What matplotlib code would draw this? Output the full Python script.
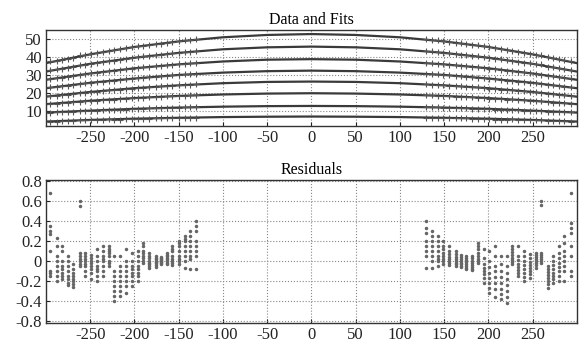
import numpy as np
import matplotlib
matplotlib.use('Agg')
import matplotlib.pyplot as plt

plt.rcParams['font.family'] = ['Liberation Serif', 'DejaVu Serif']
plt.rcParams['axes.unicode_minus'] = False

# fit curves, read at x = -300 .. 300 every 50
knot_x = [-300, -250, -200, -150, -100, -50, 0, 50, 100, 150, 200, 250, 300]
fits = [
    [36.6, 41.5, 45.6, 48.7, 51.0, 52.3, 52.8, 52.3, 51.0, 48.7, 45.6, 41.5, 36.6],
    [31.9, 36.2, 39.6, 42.3, 44.3, 45.4, 45.8, 45.4, 44.3, 42.3, 39.6, 36.2, 31.9],
    [27.3, 30.8, 33.7, 35.9, 37.5, 38.5, 38.8, 38.5, 37.5, 35.9, 33.7, 30.8, 27.3],
    [22.6, 25.6, 28.0, 30.0, 31.3, 32.1, 32.4, 32.1, 31.3, 30.0, 28.0, 25.6, 22.6],
    [17.9, 20.5, 22.6, 24.2, 25.4, 26.1, 26.3, 26.1, 25.4, 24.2, 22.6, 20.5, 17.9],
    [13.7, 15.6, 17.1, 18.3, 19.1, 19.6, 19.8, 19.6, 19.1, 18.3, 17.1, 15.6, 13.7],
    [9.0, 10.1, 11.1, 11.8, 12.3, 12.6, 12.7, 12.6, 12.3, 11.8, 11.1, 10.1, 9.0],
    [4.0, 4.9, 5.6, 6.1, 6.5, 6.7, 6.8, 6.7, 6.5, 6.1, 5.6, 4.9, 4.0],
]

# measured positions (left and right wings)
data_x = [-295, -288, -282, -275, -269, -262, -256, -249, -242, -236, -229, -223, -216,
          -209, -203, -196, -190, -183, -176, -170, -163, -157, -150, -143, -137, -130,
          130, 136, 143, 149, 156, 163, 169, 175, 182, 188, 195, 201, 208,
          214, 221, 227, 234, 240, 247, 254, 260, 267, 273, 280, 286, 293]

# residuals per position, one value per curve
resid = [
    [0.68, 0.35, 0.30, 0.27, 0.10, -0.10, -0.12, -0.15],
    [0.23, 0.15, 0.05, 0.00, -0.05, -0.10, -0.15, -0.20],
    [0.15, 0.10, 0.00, -0.05, -0.08, -0.12, -0.15, -0.18],
    [0.05, 0.00, -0.05, -0.10, -0.15, -0.18, -0.22, -0.24],
    [-0.03, -0.08, -0.12, -0.15, -0.18, -0.20, -0.23, -0.26],
    [0.60, 0.55, 0.08, 0.05, 0.02, 0.00, -0.03, -0.05],
    [0.08, 0.05, 0.02, 0.00, -0.03, -0.05, -0.10, -0.15],
    [0.06, 0.03, 0.00, -0.02, -0.05, -0.08, -0.12, -0.18],
    [0.12, 0.05, 0.00, -0.05, -0.08, -0.10, -0.15, -0.20],
    [0.15, 0.10, 0.05, 0.02, 0.00, -0.05, -0.10, -0.15],
    [0.15, 0.12, 0.08, 0.05, 0.00, -0.02, -0.05, 0.10],
    [0.05, -0.10, -0.15, -0.20, -0.25, -0.30, -0.35, -0.40],
    [0.05, -0.05, -0.10, -0.15, -0.20, -0.25, -0.30, -0.35],
    [0.12, 0.00, -0.05, -0.10, -0.15, -0.20, -0.25, -0.32],
    [0.08, 0.00, -0.05, -0.08, -0.12, -0.15, -0.20, -0.25],
    [0.10, 0.05, 0.00, -0.05, -0.08, -0.12, -0.15, -0.20],
    [0.18, 0.15, 0.10, 0.08, 0.05, 0.03, 0.00, -0.02],
    [0.08, 0.05, 0.03, 0.00, -0.02, -0.03, -0.05, -0.07],
    [0.05, 0.03, 0.02, 0.00, -0.01, -0.02, -0.04, -0.06],
    [0.04, 0.03, 0.02, 0.01, 0.00, -0.01, -0.02, -0.03],
    [0.08, 0.06, 0.05, 0.03, 0.02, 0.00, -0.02, -0.03],
    [0.15, 0.12, 0.10, 0.05, 0.02, 0.00, -0.02, -0.04],
    [0.20, 0.18, 0.15, 0.10, 0.05, 0.02, 0.00, -0.03],
    [0.25, 0.22, 0.20, 0.15, 0.10, 0.05, 0.00, -0.07],
    [0.30, 0.25, 0.20, 0.15, 0.10, 0.05, 0.02, -0.08],
    [0.40, 0.35, 0.30, 0.20, 0.15, 0.10, 0.05, -0.08],
    [0.40, 0.33, 0.28, 0.20, 0.15, 0.10, 0.05, -0.07],
    [0.30, 0.25, 0.20, 0.15, 0.10, 0.05, 0.00, -0.07],
    [0.25, 0.20, 0.15, 0.10, 0.05, 0.02, 0.00, -0.05],
    [0.20, 0.15, 0.12, 0.08, 0.05, 0.02, 0.00, -0.03],
    [0.15, 0.10, 0.07, 0.04, 0.02, 0.00, -0.02, -0.04],
    [0.10, 0.07, 0.04, 0.02, 0.00, -0.02, -0.03, -0.05],
    [0.06, 0.04, 0.02, 0.00, -0.02, -0.03, -0.05, -0.06],
    [0.05, 0.03, 0.01, -0.01, -0.03, -0.05, -0.07, -0.08],
    [0.05, 0.03, 0.00, -0.02, -0.04, -0.06, -0.08, -0.09],
    [0.18, 0.15, 0.12, 0.08, 0.05, 0.02, 0.00, -0.02],
    [0.12, 0.03, -0.03, -0.07, -0.10, -0.13, -0.17, -0.22],
    [0.10, 0.00, -0.06, -0.12, -0.17, -0.22, -0.27, -0.32],
    [0.15, 0.05, -0.05, -0.10, -0.16, -0.22, -0.28, -0.36],
    [0.05, -0.03, -0.10, -0.16, -0.22, -0.28, -0.33, -0.38],
    [0.05, -0.05, -0.12, -0.18, -0.24, -0.30, -0.36, -0.42],
    [0.15, 0.12, 0.09, 0.06, 0.03, 0.01, -0.01, -0.03],
    [0.15, 0.05, 0.01, -0.03, -0.06, -0.09, -0.12, -0.15],
    [0.10, 0.05, 0.00, -0.04, -0.08, -0.12, -0.16, -0.20],
    [0.07, 0.03, -0.01, -0.04, -0.07, -0.10, -0.13, -0.17],
    [0.08, 0.06, 0.04, 0.02, 0.00, -0.02, -0.04, -0.07],
    [0.60, 0.56, 0.08, 0.06, 0.04, 0.02, 0.00, -0.02],
    [-0.05, -0.08, -0.11, -0.14, -0.17, -0.20, -0.23, -0.27],
    [0.05, 0.00, -0.04, -0.08, -0.12, -0.15, -0.18, -0.22],
    [0.15, 0.08, 0.03, -0.02, -0.06, -0.10, -0.15, -0.20],
    [0.25, 0.18, 0.10, 0.05, 0.00, -0.05, -0.10, -0.20],
    [0.68, 0.38, 0.33, 0.28, 0.15, 0.05, -0.10, -0.15],
]

x_ticks = [-250, -200, -150, -100, -50, 0, 50, 100, 150, 200, 250]
top_yticks = [10, 20, 30, 40, 50]
res_yticks = [-0.6, -0.4, -0.2, 0, 0.2, 0.4, 0.6, 0.8]
res_ylabels = ['-0.8', '-0.4', '-0.2', '0', '0.2', '0.4', '0.6', '0.8']

fig = plt.figure(figsize=(5.82, 3.42), dpi=100)
ax1 = fig.add_axes([0.079, 0.632, 0.912, 0.281])
ax2 = fig.add_axes([0.079, 0.056, 0.912, 0.418])

dx = np.array(data_x, dtype=float)
res = np.array(resid)
for k, f in enumerate(fits):
    ax1.plot(knot_x, f, color='#3a3a3a', lw=1.6, zorder=3)
    yd = np.interp(dx, knot_x, f) + res[:, k]
    ax1.plot(dx, yd, '+', color='#555555', ms=4, mew=0.8, zorder=4)
    ax2.plot(dx, res[:, k], '.', color='#666666', ms=3, zorder=3)

for ax in (ax1, ax2):
    ax.set_xlim(-300, 300)
    ax.set_xticks(x_ticks)
    ax.grid(True, ls=':', color='#888888', lw=0.8)
    ax.tick_params(direction='in', length=3, labelsize=12, colors='#222222', pad=3)
    for s in ax.spines.values():
        s.set_color('#333333')
        s.set_linewidth(1.0)

ax1.set_ylim(1.6, 55.2)
ax1.set_yticks(top_yticks)
ax1.set_title('Data and Fits', fontsize=11.5, pad=4)

ax2.set_ylim(-0.62, 0.81)
ax2.set_yticks(res_yticks)
ax2.set_yticklabels(res_ylabels)
ax2.set_title('Residuals', fontsize=11.5, pad=4)

fig.savefig('out.png', dpi=100)
